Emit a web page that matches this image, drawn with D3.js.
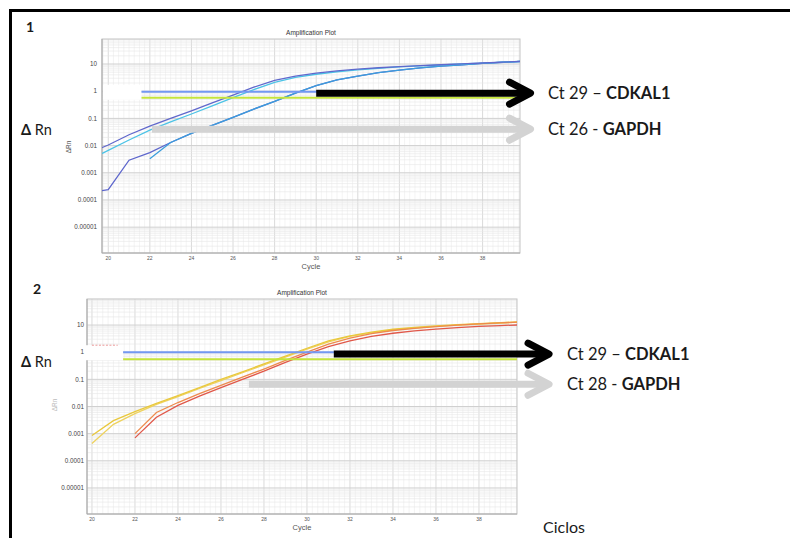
<!DOCTYPE html>
<html>
<head>
<meta charset="utf-8">
<script src="https://cdn.jsdelivr.net/npm/d3@7"></script>
<style>
body { margin: 0; background: #fff; }
svg { display: block; font-family: "Liberation Sans", Arial, sans-serif; }
.note { font-family: Lato, "Open Sans", sans-serif; fill: #1a1a1a; }
</style>
</head>
<body>
<svg class="qpcrsvg" width="790" height="538"></svg>
<script>
// cycles
var cycles = [19, 20, 21, 22, 23, 24, 25, 26, 27, 28, 29, 30, 31, 32, 33, 34, 35, 36, 37, 38, 39, 40];

// panel 1 (blue curves)
var p1Purple = [0.005, 0.0105, 0.025, 0.052, 0.1, 0.19, 0.37, 0.72, 1.4, 2.5, 3.6, 4.6, 5.6, 6.5, 7.3, 8.0, 8.7, 9.4, 10.1, 10.9, 11.8, 12.7];
var p1Cyan   = [0.0028, 0.0067, 0.016, 0.037, 0.074, 0.145, 0.29, 0.58, 1.15, 2.1, 3.2, 4.2, 5.2, 6.1, 7.0, 7.8, 8.5, 9.2, 10.0, 10.8, 11.7, 12.6];
var p1LatePurple = [0.00018, 0.00024, 0.0029, 0.0055, 0.013, 0.028, 0.055, 0.11, 0.22, 0.42, 0.85, 1.6, 2.6, 3.6, 4.8, 6.0, 7.2, 8.3, 9.4, 10.5, 11.6, 12.6];
var p1LateBlue = [null, null, null, 0.0033, 0.013, 0.028, 0.055, 0.11, 0.22, 0.42, 0.85, 1.6, 2.6, 3.6, 4.8, 6.0, 7.2, 8.3, 9.4, 10.5, 11.6, 12.6];

// panel 2 (yellow / red curves)
var p2YellowA = [null, 0.00085, 0.003, 0.0065, 0.013, 0.025, 0.05, 0.1, 0.19, 0.37, 0.72, 1.4, 2.6, 4.0, 5.5, 7.0, 8.2, 9.3, 10.3, 11.3, 12.3, 13.2];
var p2YellowB = [null, 0.00043, 0.0022, 0.0055, 0.012, 0.023, 0.046, 0.09, 0.175, 0.34, 0.66, 1.3, 2.4, 3.8, 5.2, 6.6, 7.8, 8.9, 9.9, 10.9, 11.9, 12.8];
var p2Orange  = [null, null, null, 0.001, 0.006, 0.014, 0.03, 0.06, 0.12, 0.24, 0.5, 1.0, 2.0, 3.3, 4.8, 6.3, 7.6, 8.8, 9.9, 11.0, 12.0, 13.0];
var p2Red     = [null, null, null, 0.0007, 0.004, 0.011, 0.024, 0.05, 0.1, 0.2, 0.42, 0.85, 1.6, 2.6, 3.8, 5.0, 6.1, 7.1, 8.0, 8.9, 9.6, 10.2];

// thresholds (blue, green) per panel
var thresholdBlue = [0.95, 1.0];
var thresholdGreen = [0.57, 0.55];
var thresholdStart = [21.6, 21.45];

// annotation arrows: start cycle / value, tip cycle
var blackArrowStart = [30.0, 31.25];
var grayArrowStart = [22.1, 27.3];
var blackArrowValue = [0.85, 0.85];
var grayArrowValue = [0.04, 0.066];
var arrowTip = [40.45, 41.4];

var xTickValues = [20, 22, 24, 26, 28, 30, 32, 34, 36, 38];
var yTickValues = [10, 1, 0.1, 0.01, 0.001, 0.0001, 0.00001];
var yTickLabels = ["10", "1", "0.1", "0.01", "0.001", "0.0001", "0.00001"];

var ctLabels = [["Ct 29 \u2013 ", "CDKAL1"], ["Ct 29 \u2013 ", "CDKAL1"]];
var refLabels = [["Ct 26 - ", "GAPDH"], ["Ct 28 - ", "GAPDH"]];

var svg = d3.select(".qpcrsvg");

function toPoints(values)
{
	return cycles.map(function(c, i) { return {c: c, v: values[i]}; });
}

function arrow(g, x0, x1, y, color)
{
	g.append("line")
		.attr("x1", x0).attr("y1", y)
		.attr("x2", x1 - 5).attr("y2", y)
		.attr("stroke", color)
		.attr("stroke-width", 7);
	g.append("path")
		.attr("d", "M" + (x1 - 24) + "," + (y - 11) + "L" + (x1 - 3) + "," + y + "L" + (x1 - 24) + "," + (y + 11))
		.attr("fill", "none")
		.attr("stroke", color)
		.attr("stroke-width", 7)
		.attr("stroke-linecap", "round")
		.attr("stroke-linejoin", "round");
}

function drawPanel(p)
{
	var g = svg.append("g").attr("class", "panel" + p.id);
	var k = p.id - 1;

	var x = d3.scaleLinear().domain(p.xdom).range([p.left, p.right]);
	var y = d3.scaleLog().domain(p.ydom).range([p.bottom, p.top]);

	// grid
	var grid = g.append("g").attr("class", "grid");
	d3.range(Math.ceil(p.xdom[0] * 4) / 4, p.xdom[1], 0.25).forEach(function(c) {
		grid.append("line")
			.attr("x1", x(c)).attr("x2", x(c))
			.attr("y1", p.top).attr("y2", p.bottom)
			.attr("stroke", c % 2 == 0 ? "#d6d6d6" : "#ececec")
			.attr("stroke-width", c % 2 == 0 ? 0.9 : 0.6);
	});
	for (var d = -6; d <= 1; d++) {
		for (var m = 1; m <= 9; m++) {
			var v = m * Math.pow(10, d);
			if (v < p.ydom[0] || v > p.ydom[1]) continue;
			grid.append("line")
				.attr("x1", p.left).attr("x2", p.right)
				.attr("y1", y(v)).attr("y2", y(v))
				.attr("stroke", m == 1 ? "#d0d0d0" : "#e6e6e6")
				.attr("stroke-width", m == 1 ? 1 : 0.6);
		}
	}

	// frame
	g.append("rect")
		.attr("x", p.left).attr("y", p.top)
		.attr("width", p.right - p.left).attr("height", p.bottom - p.top)
		.attr("fill", "none")
		.attr("stroke", "#c4c4c4");
	g.append("path")
		.attr("d", "M" + p.left + "," + p.top + "V" + p.bottom + "H" + p.right)
		.attr("fill", "none")
		.attr("stroke", "#a8a8a8");

	// title and axis texts
	g.append("text")
		.attr("x", (p.left + p.right) / 2).attr("y", p.top - 4)
		.style("text-anchor", "middle")
		.style("font-size", "6.5px")
		.attr("fill", "#333")
		.text("Amplification Plot");

	g.selectAll(".ytick")
		.data(yTickValues)
		.enter().append("text")
		.attr("class", "ytick")
		.attr("x", p.left - p.ylabGap)
		.attr("y", function(v) { return y(v); })
		.attr("dy", "0.35em")
		.style("text-anchor", "end")
		.style("font-size", "6.3px")
		.attr("fill", "#444")
		.text(function(v, i) { return yTickLabels[i]; });

	g.selectAll(".xtick")
		.data(xTickValues)
		.enter().append("text")
		.attr("class", "xtick")
		.attr("x", function(c) { return x(c); })
		.attr("y", p.bottom + 7)
		.style("text-anchor", "middle")
		.style("font-size", "5px")
		.attr("fill", "#555")
		.text(function(c) { return c; });

	g.append("text")
		.attr("x", (p.left + p.right) / 2).attr("y", p.bottom + 16)
		.style("text-anchor", "middle")
		.style("font-size", "7.5px")
		.attr("fill", "#555")
		.text("Cycle");

	g.append("text")
		.attr("transform", "translate(" + p.ylabX + "," + p.ylabY + ") rotate(-90)")
		.style("text-anchor", "middle")
		.style("font-size", "6.5px")
		.attr("fill", p.ylabColor)
		.text("\u0394Rn");

	// curves
	var clipId = "clip" + p.id;
	g.append("clipPath").attr("id", clipId)
		.append("rect")
		.attr("x", p.left).attr("y", p.top)
		.attr("width", p.right - p.left).attr("height", p.bottom - p.top);

	var line = d3.line()
		.defined(function(d) { return d.v != null; })
		.x(function(d) { return x(d.c); })
		.y(function(d) { return y(d.v); });

	var curves = g.append("g").attr("clip-path", "url(#" + clipId + ")");
	p.series.forEach(function(s) {
		curves.append("path")
			.datum(toPoints(s.values))
			.attr("d", line)
			.attr("fill", "none")
			.attr("stroke", s.color)
			.attr("stroke-width", 1.3);
	});

	// white patch left of the thresholds
	g.append("rect")
		.attr("x", p.maskX).attr("y", y(thresholdBlue[k]) - 7)
		.attr("width", x(thresholdStart[k]) - p.maskX).attr("height", 15)
		.attr("fill", "#fff");
	if (p.id == 2) {
		g.append("line")
			.attr("x1", x(20)).attr("x2", x(21.2))
			.attr("y1", y(thresholdBlue[k]) - 7).attr("y2", y(thresholdBlue[k]) - 7)
			.attr("stroke", "#e88080")
			.attr("stroke-width", 0.8)
			.attr("stroke-dasharray", "2,1.5");
	}

	// thresholds
	g.append("line")
		.attr("x1", x(thresholdStart[k])).attr("x2", p.right)
		.attr("y1", y(thresholdGreen[k])).attr("y2", y(thresholdGreen[k]))
		.attr("stroke", "#c5e43c")
		.attr("stroke-width", 2);
	g.append("line")
		.attr("x1", x(thresholdStart[k])).attr("x2", p.right)
		.attr("y1", y(thresholdBlue[k])).attr("y2", y(thresholdBlue[k]))
		.attr("stroke", "#7398f2")
		.attr("stroke-width", 2);

	// arrows
	arrow(g, x(grayArrowStart[k]), x(arrowTip[k]), y(grayArrowValue[k]), "#d3d3d3");
	arrow(g, x(blackArrowStart[k]), x(arrowTip[k]), y(blackArrowValue[k]), "#000");

	// annotations
	var t1 = g.append("text").attr("class", "note")
		.attr("x", p.noteX).attr("y", y(blackArrowValue[k]) + 6)
		.style("font-size", "16.5px");
	t1.append("tspan").text(ctLabels[k][0]);
	t1.append("tspan").style("font-weight", "bold").text(ctLabels[k][1]);

	var t2 = g.append("text").attr("class", "note")
		.attr("x", p.noteX).attr("y", y(grayArrowValue[k]) + 6)
		.style("font-size", "16.5px");
	t2.append("tspan").text(refLabels[k][0]);
	t2.append("tspan").style("font-weight", "bold").text(refLabels[k][1]);

	// panel number and delta Rn
	g.append("text").attr("class", "note")
		.attr("x", p.numX).attr("y", p.numY)
		.style("font-size", "14px")
		.style("font-weight", "bold")
		.text(p.id);

	var dr = g.append("text").attr("class", "note")
		.attr("x", 21).attr("y", p.drY)
		.style("font-size", "14.5px");
	dr.append("tspan").style("font-weight", "bold").text("\u0394");
	dr.append("tspan").text(" Rn");
}

// outer frame
svg.append("path")
	.attr("d", "M10.5,538V10.5H790")
	.attr("fill", "none")
	.attr("stroke", "#000")
	.attr("stroke-width", 3);

drawPanel({
	id: 1, left: 102, right: 520, top: 39, bottom: 253,
	xdom: [19.7, 39.8], ydom: [Math.pow(10, -5.95), Math.pow(10, 1.92)],
	ylabGap: 5, ylabX: 71, ylabY: 147, ylabColor: "#555",
	maskX: 103, noteX: 548,
	numX: 26, numY: 32, drY: 135,
	series: [
		{values: p1LatePurple, color: "#5d66cc"},
		{values: p1LateBlue, color: "#3b9ddc"},
		{values: p1Cyan, color: "#4cc3e6"},
		{values: p1Purple, color: "#6068cc"}
	]
});

drawPanel({
	id: 2, left: 87, right: 517, top: 299, bottom: 514,
	xdom: [19.77, 39.77], ydom: [Math.pow(10, -5.96), Math.pow(10, 1.96)],
	ylabGap: 3, ylabX: 57, ylabY: 405, ylabColor: "#bbb",
	maskX: 85, noteX: 567,
	numX: 33, numY: 294, drY: 367,
	series: [
		{values: p2YellowB, color: "#eed25e"},
		{values: p2YellowA, color: "#e9c83c"},
		{values: p2Red, color: "#e0584a"},
		{values: p2Orange, color: "#ee8a4c"}
	]
});

// x axis caption
svg.append("text").attr("class", "note")
	.attr("x", 543).attr("y", 533)
	.style("font-size", "16px")
	.text("Ciclos");
</script>
</body>
</html>
